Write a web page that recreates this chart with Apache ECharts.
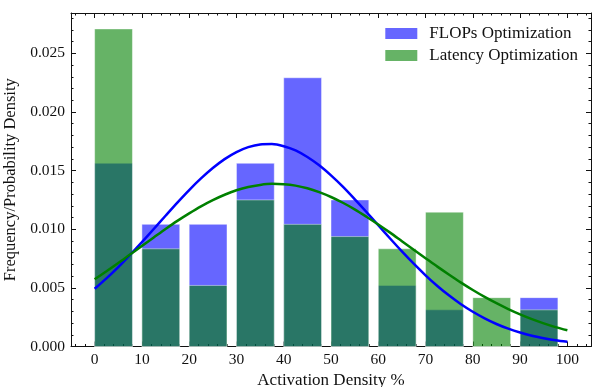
<!DOCTYPE html>
<html>
<head>
<meta charset="utf-8">
<script src="https://cdn.jsdelivr.net/npm/echarts@6/dist/echarts.min.js"></script>
<style>
  html, body { margin: 0; padding: 0; background: #fff; }
  #chart { width: 592px; height: 387px; }
</style>
</head>
<body>
<div id="chart"></div>
<script>
  // histogram bins (left edge of each bin, width 10)
  var binStarts = [0, 10, 20, 30, 40, 50, 60, 70, 80, 90];
  var flopsDensity = [0.015625, 0.010417, 0.010417, 0.015625, 0.022917, 0.0125, 0.005208, 0.003125, 0, 0.004167];
  var latencyDensity = [0.027083, 0.008333, 0.005208, 0.0125, 0.010417, 0.009375, 0.008333, 0.011458, 0.004167, 0.003125];

  // fitted curves, every 2.5 units
  var curveX = [0, 2.5, 5, 7.5, 10, 12.5, 15, 17.5, 20, 22.5, 25, 27.5, 30, 32.5, 35, 37.5, 40, 42.5, 45, 47.5, 50,
    52.5, 55, 57.5, 60, 62.5, 65, 67.5, 70, 72.5, 75, 77.5, 80, 82.5, 85, 87.5, 90, 92.5, 95, 97.5, 100];
  var flopsCurve = [0.00492, 0.00581, 0.00677, 0.00781, 0.00890, 0.01002, 0.01115, 0.01227, 0.01334, 0.01433,
    0.01522, 0.01598, 0.01658, 0.01700, 0.01723, 0.01726, 0.01708, 0.01672, 0.01616, 0.01545, 0.01459,
    0.01363, 0.01257, 0.01147, 0.01034, 0.00921, 0.00811, 0.00706, 0.00607, 0.00516, 0.00434, 0.00360,
    0.00296, 0.00240, 0.00192, 0.00152, 0.00119, 0.00092, 0.00071, 0.00053, 0.00040];
  var latencyCurve = [0.00574, 0.00642, 0.00712, 0.00785, 0.00858, 0.00930, 0.01002, 0.01071, 0.01135, 0.01195,
    0.01248, 0.01294, 0.01332, 0.01360, 0.01378, 0.01387, 0.01384, 0.01372, 0.01349, 0.01316, 0.01275,
    0.01226, 0.01170, 0.01107, 0.01041, 0.00971, 0.00898, 0.00825, 0.00753, 0.00681, 0.00612, 0.00545,
    0.00482, 0.00423, 0.00369, 0.00319, 0.00274, 0.00233, 0.00197, 0.00165, 0.00138];

  var xTicks = [0, 10, 20, 30, 40, 50, 60, 70, 80, 90, 100];
  var yTicks = [0, 0.005, 0.010, 0.015, 0.020, 0.025];

  var font = 'Liberation Serif';
  var barW = 8;

  // minor tick positions
  var xMinor = [];
  for (var i = -4; i <= 104; i += 2) { if (i % 10 !== 0) xMinor.push(i); }
  var yMinor = [];
  for (var j = 1; j <= 28; j++) { if (j % 5 !== 0) yMinor.push(j / 1000); }

  function pairs(xs, ys) {
    return xs.map(function (x, k) { return [x, ys[k]]; });
  }

  function barRender(color) {
    return function (params, api) {
      var x0 = api.value(0);
      var h = api.value(1);
      var p1 = api.coord([x0, h]);
      var p2 = api.coord([x0 + barW, 0]);
      return {
        type: 'rect',
        shape: { x: p1[0], y: p1[1], width: p2[0] - p1[0], height: p2[1] - p1[1] },
        style: { fill: color, stroke: 'rgba(255,255,255,0.45)', lineWidth: 1 }
      };
    };
  }

  function xAx(pos, ticks, len, showLabel, showLine) {
    return {
      type: 'value', position: pos, min: -5, max: 105,
      axisLine: { show: showLine, onZero: false, lineStyle: { color: '#111', width: 1 } },
      axisTick: { show: true, inside: true, length: len, customValues: ticks, lineStyle: { color: '#111', width: 1 } },
      axisLabel: { show: showLabel, customValues: xTicks, margin: 5, color: '#111', fontFamily: font, fontSize: 15.5 },
      splitLine: { show: false }
    };
  }

  function yAx(pos, ticks, len, showLabel, showLine) {
    return {
      type: 'value', position: pos, min: 0, max: 0.02844,
      axisLine: { show: showLine, onZero: false, lineStyle: { color: '#111', width: 1 } },
      axisTick: { show: true, inside: true, length: len, customValues: ticks, lineStyle: { color: '#111', width: 1 } },
      axisLabel: {
        show: showLabel, customValues: yTicks, margin: 6, color: '#111', fontFamily: font, fontSize: 15.5,
        formatter: function (v) { return v.toFixed(3); }
      },
      splitLine: { show: false }
    };
  }

  var xMain = xAx('bottom', xTicks, 5, true, true);
  xMain.name = 'Activation Density %';
  xMain.nameLocation = 'middle';
  xMain.nameGap = 22;
  xMain.nameTextStyle = { fontFamily: font, fontSize: 17, color: '#111' };

  var yMain = yAx('left', yTicks, 5, true, true);
  yMain.name = 'Frequency/Probability Density';
  yMain.nameLocation = 'middle';
  yMain.nameGap = 44;
  yMain.nameTextStyle = { fontFamily: font, fontSize: 16.5, color: '#111' };

  var chart = echarts.init(document.getElementById('chart'));
  chart.setOption({
    animation: false,
    backgroundColor: '#fff',
    grid: { left: 71, right: 1, top: 13, bottom: 40.5, outerBoundsMode: 'none', containLabel: false },
    legend: {
      data: ['FLOPs Optimization', 'Latency Optimization'],
      orient: 'vertical',
      right: 14,
      top: 25,
      padding: 0,
      itemWidth: 32,
      itemHeight: 11,
      itemGap: 5,
      icon: 'rect',
      textStyle: { fontFamily: font, fontSize: 17, color: '#111', padding: [0, 0, 0, 7] }
    },
    xAxis: [
      xMain,
      xAx('bottom', xMinor, 2.5, false, false),
      xAx('top', xTicks, 5, false, true),
      xAx('top', xMinor, 2.5, false, false)
    ],
    yAxis: [
      yMain,
      yAx('left', yMinor, 2.5, false, false),
      yAx('right', yTicks, 5, false, true),
      yAx('right', yMinor, 2.5, false, false)
    ],
    series: [
      {
        name: 'FLOPs Optimization',
        type: 'custom',
        renderItem: barRender('rgba(0,0,255,0.6)'),
        itemStyle: { color: 'rgba(0,0,255,0.6)' },
        data: pairs(binStarts, flopsDensity),
        z: 1
      },
      {
        name: 'Latency Optimization',
        type: 'custom',
        renderItem: barRender('rgba(0,128,0,0.6)'),
        itemStyle: { color: 'rgba(0,128,0,0.6)' },
        data: pairs(binStarts, latencyDensity),
        z: 2
      },
      {
        name: 'flops fit',
        type: 'line',
        smooth: 0.3,
        showSymbol: false,
        lineStyle: { color: '#0000ff', width: 2.5 },
        itemStyle: { color: '#0000ff' },
        data: pairs(curveX, flopsCurve),
        z: 3
      },
      {
        name: 'latency fit',
        type: 'line',
        smooth: 0.3,
        showSymbol: false,
        lineStyle: { color: '#008000', width: 2.5 },
        itemStyle: { color: '#008000' },
        data: pairs(curveX, latencyCurve),
        z: 4
      }
    ]
  });
</script>
</body>
</html>
